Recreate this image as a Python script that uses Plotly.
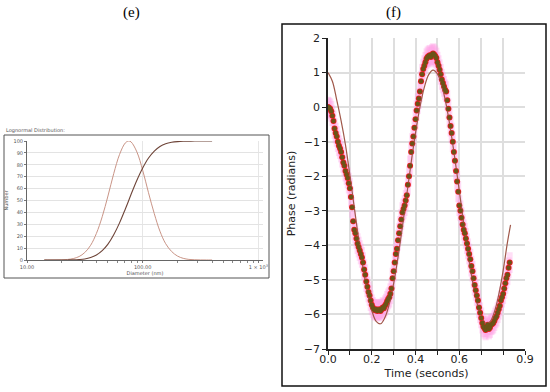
import plotly.graph_objects as go

# ---- panel (e): lognormal distribution ----
diameter_nm = [14.1, 15.8, 17.8, 20.0, 22.4, 25.1, 28.2, 31.6, 35.5, 39.8, 44.7,
               50.1, 56.2, 63.1, 70.8, 75.7, 79.4, 89.1, 100, 112, 126, 141, 158,
               178, 200, 224, 251, 282, 316, 355, 398]
number_pct = [0, 0, 0.05, 0.15, 0.45, 1.2, 2.9, 6.3, 12.4, 22.3, 36.4,
              53.8, 72.6, 88.7, 98.4, 100, 99.2, 90.8, 75.4, 56.9, 38.9, 24.2, 13.7,
              7.1, 3.3, 1.4, 0.5, 0.2, 0.06, 0.02, 0]
cumulative_pct = [0, 0, 0, 0.02, 0.05, 0.14, 0.4, 0.9, 2.1, 4.2, 7.8,
                  13.3, 21.2, 31.2, 42.9, 50, 55.2, 67.0, 77.3, 85.5, 91.5, 95.4, 97.7,
                  98.9, 99.5, 99.8, 99.9, 100, 100, 100, 100]
e_xticks = [10, 100, 1000]
e_xticktext = ['10.00', '100.00', '1 × 10<sup>3</sup>']
e_minor = [20, 30, 40, 50, 60, 70, 80, 90, 200, 300, 400, 500, 600, 700, 800, 900]
e_yticks = [0, 10, 20, 30, 40, 50, 60, 70, 80, 90, 100]

# ---- panel (f): phase vs time ----
time_s = [0.000, 0.005, 0.010, 0.015, 0.020, 0.025, 0.030, 0.035, 0.040, 0.045,
          0.050, 0.055, 0.060, 0.065, 0.070, 0.075, 0.080, 0.085, 0.090, 0.095,
          0.100, 0.105, 0.110, 0.115, 0.120, 0.125, 0.130, 0.135, 0.140, 0.145,
          0.150, 0.155, 0.160, 0.165, 0.170, 0.175, 0.180, 0.185, 0.190, 0.195,
          0.200, 0.205, 0.210, 0.215, 0.220, 0.225, 0.230, 0.235, 0.240, 0.245,
          0.250, 0.255, 0.260, 0.265, 0.270, 0.275, 0.280, 0.285, 0.290, 0.295,
          0.300, 0.305, 0.310, 0.315, 0.320, 0.325, 0.330, 0.335, 0.340, 0.345,
          0.350, 0.355, 0.360, 0.365, 0.370, 0.375, 0.380, 0.385, 0.390, 0.395,
          0.400, 0.405, 0.410, 0.415, 0.420, 0.425, 0.430, 0.435, 0.440, 0.445,
          0.450, 0.455, 0.460, 0.465, 0.470, 0.475, 0.480, 0.485, 0.490, 0.495,
          0.500, 0.505, 0.510, 0.515, 0.520, 0.525, 0.530, 0.535, 0.540, 0.545,
          0.550, 0.555, 0.560, 0.565, 0.570, 0.575, 0.580, 0.585, 0.590, 0.595,
          0.600, 0.605, 0.610, 0.615, 0.620, 0.625, 0.630, 0.635, 0.640, 0.645,
          0.650, 0.655, 0.660, 0.665, 0.670, 0.675, 0.680, 0.685, 0.690, 0.695,
          0.700, 0.705, 0.710, 0.715, 0.720, 0.725, 0.730, 0.735, 0.740, 0.745,
          0.750, 0.755, 0.760, 0.765, 0.770, 0.775, 0.780, 0.785, 0.790, 0.795,
          0.800, 0.805, 0.810, 0.815, 0.820, 0.825, 0.830]
phase_rad = [0.00, -0.02, -0.05, -0.12, -0.25, -0.40, -0.62, -0.75, -0.85, -1.00,
             -1.12, -1.20, -1.30, -1.45, -1.60, -1.70, -1.85, -1.95, -2.05, -2.20,
             -2.35, -2.60, -2.90, -3.30, -3.55, -3.65, -3.80, -3.95, -4.05, -4.15,
             -4.25, -4.35, -4.50, -4.70, -4.85, -5.05, -5.20, -5.35, -5.45, -5.60,
             -5.72, -5.80, -5.85, -5.88, -5.85, -5.90, -5.87, -5.85, -5.90, -5.85,
             -5.80, -5.82, -5.75, -5.70, -5.62, -5.55, -5.50, -5.40, -5.25, -4.95,
             -4.75, -4.50, -4.25, -4.10, -3.85, -3.65, -3.45, -3.25, -3.05, -2.95,
             -2.85, -2.70, -2.55, -2.25, -2.00, -1.70, -1.30, -1.05, -0.85, -0.60,
             -0.35, -0.10, 0.10, 0.25, 0.45, 0.75, 0.95, 1.10, 1.20, 1.30,
             1.40, 1.45, 1.48, 1.50, 1.45, 1.52, 1.55, 1.52, 1.48, 1.42,
             1.30, 1.20, 1.08, 0.95, 0.80, 0.70, 0.60, 0.50, 0.45, 0.20,
             -0.05, -0.30, -0.55, -0.75, -1.00, -1.30, -1.55, -1.85, -2.15, -2.45,
             -2.85, -3.00, -3.20, -3.40, -3.55, -3.65, -3.80, -3.95, -4.10, -4.25,
             -4.40, -4.60, -4.75, -4.95, -5.15, -5.30, -5.45, -5.60, -5.80, -5.95,
             -6.10, -6.25, -6.35, -6.40, -6.45, -6.35, -6.30, -6.42, -6.38, -6.30,
             -6.28, -6.25, -6.18, -6.10, -6.05, -5.95, -5.85, -5.75, -5.60, -5.50,
             -5.40, -5.25, -5.10, -4.95, -4.85, -4.65, -4.50]
fit_time = [0.00, 0.02, 0.04, 0.06, 0.08, 0.10, 0.12, 0.14, 0.16, 0.18, 0.20,
            0.22, 0.24, 0.26, 0.28, 0.30, 0.32, 0.34, 0.36, 0.38, 0.40, 0.42,
            0.44, 0.46, 0.48, 0.50, 0.52, 0.54, 0.56, 0.58, 0.60, 0.62, 0.64,
            0.66, 0.68, 0.70, 0.72, 0.74, 0.76, 0.78, 0.80, 0.82, 0.834]
fit_phase = [1.0, 0.75, 0.2, -0.4, -1.1, -1.97, -2.9, -3.82, -4.66, -5.36, -5.88,
             -6.2, -6.27, -6.09, -5.7, -5.1, -4.34, -3.46, -2.53, -1.6, -0.74, 0.0,
             0.57, 0.94, 1.07, 0.96, 0.62, 0.07, -0.66, -1.51, -2.43, -3.37, -4.26,
             -5.03, -5.65, -6.07, -6.26, -6.21, -5.93, -5.43, -4.74, -3.91, -3.41]
f_xticks = [0, 0.2, 0.4, 0.6, 0.9]
f_xticktext = ['0.0', '0.2', '0.4', '0.6', '0.9']
f_xminor = [0.1, 0.3, 0.5, 0.7, 0.8]
f_yticks = [2, 1, 0, -1, -2, -3, -4, -5, -6, -7]

W, H = 550, 392

def px(x):
    return x / W

def py(y):
    return 1 - y / H

fig = go.Figure()

# (e)
fig.add_trace(go.Scatter(x=diameter_nm, y=number_pct, mode='lines',
                         line=dict(color='#c99486', width=1, shape='spline'),
                         xaxis='x', yaxis='y', showlegend=False))
fig.add_trace(go.Scatter(x=diameter_nm, y=cumulative_pct, mode='lines',
                         line=dict(color='#6e4438', width=1.1, shape='spline'),
                         xaxis='x', yaxis='y', showlegend=False))

# (f)
fig.add_trace(go.Scatter(x=time_s, y=phase_rad, mode='markers',
                         marker=dict(color='rgba(0,0,0,0)', size=1),
                         error_y=dict(type='constant', value=0.3, thickness=6,
                                      width=0, color='rgba(255,160,230,0.35)'),
                         xaxis='x2', yaxis='y2', showlegend=False))
fig.add_trace(go.Scatter(x=time_s, y=phase_rad, mode='markers',
                         marker=dict(color='#e81c1c', size=6),
                         xaxis='x2', yaxis='y2', showlegend=False))
fig.add_trace(go.Scatter(x=fit_time, y=fit_phase, mode='lines',
                         line=dict(color='#a0584a', width=1.2, shape='spline'),
                         xaxis='x2', yaxis='y2', showlegend=False))
fig.add_trace(go.Scatter(x=time_s, y=phase_rad, mode='markers',
                         marker=dict(color='#6b5418', size=4.5),
                         xaxis='x2', yaxis='y2', showlegend=False))

small = dict(family='DejaVu Sans', size=5, color='#555555')
mid = dict(family='DejaVu Sans', size=11, color='#222222')
panel_font = dict(family='Liberation Serif', size=15, color='black')

fig.update_layout(
    template='none',
    width=W, height=H,
    margin=dict(l=0, r=0, t=0, b=0),
    paper_bgcolor='white', plot_bgcolor='white',
    xaxis=dict(type='log', domain=[px(27), px(263)], range=[1, 3.04],
               tickvals=e_xticks, ticktext=e_xticktext, tickfont=small,
               ticks='outside', ticklen=2, tickcolor='#777777',
               showline=True, linecolor='#666666', linewidth=1,
               showgrid=True, gridcolor='#e6e6e6', gridwidth=1,
               minor=dict(tickvals=e_minor, ticks='outside', ticklen=2,
                          tickcolor='#888888', showgrid=False),
               title=dict(text='Diameter (nm)', font=small, standoff=2),
               anchor='y', zeroline=False, automargin=False),
    yaxis=dict(domain=[py(260), py(141)], range=[0, 100],
               tickvals=e_yticks, tickfont=small,
               ticks='outside', ticklen=2, tickcolor='#777777',
               showline=True, linecolor='#666666', linewidth=1,
               showgrid=True, gridcolor='#e3e3e3', gridwidth=1,
               title=dict(text='Number', font=small, standoff=4),
               anchor='x', zeroline=False, automargin=False),
    xaxis2=dict(domain=[px(328), px(525)], range=[0, 0.9],
                tickvals=f_xticks, ticktext=f_xticktext, tickfont=mid,
                ticks='outside', ticklen=4, tickcolor='#222222',
                ticklabelstandoff=-5,
                showline=True, linecolor='#222222', linewidth=1.5,
                showgrid=True, gridcolor='#dedede', gridwidth=1.5,
                minor=dict(tickvals=f_xminor, ticks='outside', ticklen=4,
                           tickcolor='#222222', showgrid=True,
                           gridcolor='#dedede', gridwidth=1.5),
                title=dict(text='Time (seconds)', font=mid, standoff=4),
                anchor='y2', zeroline=False, automargin=False),
    yaxis2=dict(domain=[py(349), py(38)], range=[-7, 2],
                tickvals=f_yticks, tickfont=mid,
                ticks='outside', ticklen=4, tickcolor='#222222',
                showline=True, linecolor='#222222', linewidth=1.5,
                showgrid=True, gridcolor='#dedede', gridwidth=1.5,
                title=dict(text='Phase (radians)', font=mid, standoff=6),
                anchor='x2', zeroline=False, automargin=False),
    shapes=[
        dict(type='rect', xref='paper', yref='paper',
             x0=px(4), x1=px(269), y0=py(278), y1=py(135),
             line=dict(color='#555555', width=1)),
        dict(type='rect', xref='paper', yref='paper',
             x0=px(282), x1=px(546), y0=py(386), y1=py(24),
             line=dict(color='#111111', width=1.5)),
    ],
    annotations=[
        dict(text='(e)', x=px(131), y=py(12), xref='paper', yref='paper',
             xanchor='center', yanchor='middle', showarrow=False, font=panel_font),
        dict(text='(f)', x=px(393), y=py(12), xref='paper', yref='paper',
             xanchor='center', yanchor='middle', showarrow=False, font=panel_font),
        dict(text='Lognormal Distribution:', x=px(4), y=py(131), xref='paper', yref='paper',
             xanchor='left', yanchor='middle', showarrow=False, font=small),
    ],
)

# the page body has an 8px default margin; remove it so the figure fills the window
fig.write_html('out.html', config={'displayModeBar': False},
               post_script="document.body.style.margin='0';document.body.style.overflow='hidden';")
